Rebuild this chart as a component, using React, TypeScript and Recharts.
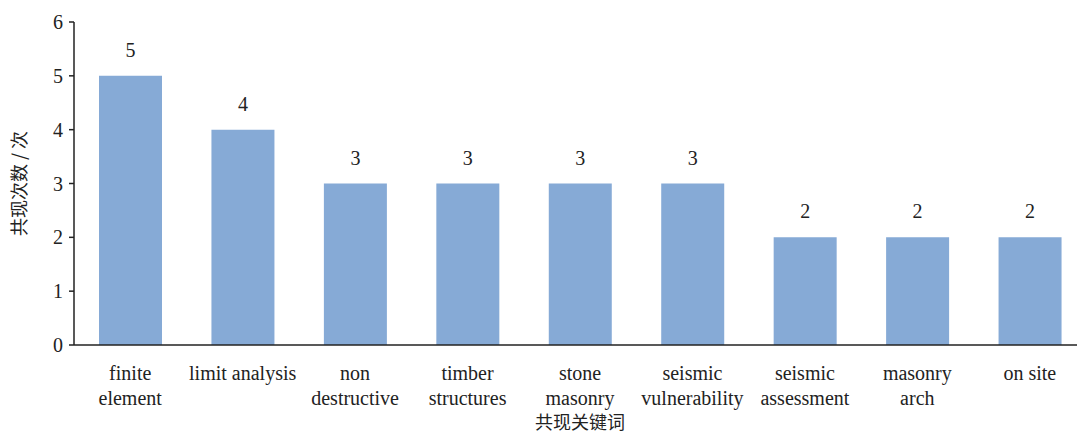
import { BarChart, Bar, XAxis, YAxis, LabelList } from "recharts";

// data
const keywords = [
  "finite\nelement",
  "limit analysis",
  "non\ndestructive",
  "timber\nstructures",
  "stone\nmasonry",
  "seismic\nvulnerability",
  "seismic\nassessment",
  "masonry\narch",
  "on site",
];
const counts = [5, 4, 3, 3, 3, 3, 2, 2, 2];
const yTicks = [0, 1, 2, 3, 4, 5, 6];

const data = keywords.map((k, i) => ({ name: k, count: counts[i] }));

const serif = "'Liberation Serif', 'Times New Roman', serif";
const cjk = "'Noto Sans CJK SC', sans-serif";

function KeywordTick({ x, y, payload }: any) {
  const lines = String(payload.value).split("\n");
  return (
    <text x={x} y={y} textAnchor="middle" style={{ fontFamily: serif, fontSize: 20 }} fill="#222">
      {lines.map((l, i) => (
        <tspan key={i} x={x} dy={i === 0 ? 27 : 25}>{l}</tspan>
      ))}
    </text>
  );
}

export default function App() {
  return (
    <div style={{ position: "absolute", left: 0, top: 0, width: 1077, height: 436, overflow: "hidden", background: "#fff" }}>
      <BarChart
        width={1100}
        height={436}
        data={data}
        margin={{ top: 22, right: 14, bottom: 0, left: 0 }}
        barSize={63}
      >
        <XAxis
          dataKey="name"
          interval={0}
          height={91}
          tickLine={false}
          axisLine={{ stroke: "#222", strokeWidth: 1.5 }}
          tick={<KeywordTick />}
          label={{ value: "共现关键词", position: "insideBottom", offset: 7, style: { fontFamily: cjk, fontSize: 18 }, fill: "#222" }}
        />
        <YAxis
          width={74}
          domain={[0, 6]}
          ticks={yTicks}
          interval={0}
          tickSize={5}
          tickMargin={6}
          tickLine={{ stroke: "#222", strokeWidth: 1.5 }}
          axisLine={{ stroke: "#222", strokeWidth: 1.5 }}
          tick={{ style: { fontFamily: serif, fontSize: 20 }, fill: "#222" }}
          label={{ value: "共现次数 / 次", angle: -90, position: "insideLeft", offset: 20, style: { textAnchor: "middle", fontFamily: cjk, fontSize: 18 }, fill: "#222" }}
        />
        <Bar dataKey="count" fill="#86AAD6" isAnimationActive={false}>
          <LabelList dataKey="count" position="top" offset={19} style={{ fontFamily: serif, fontSize: 20 }} fill="#222" />
        </Bar>
      </BarChart>
    </div>
  );
}
